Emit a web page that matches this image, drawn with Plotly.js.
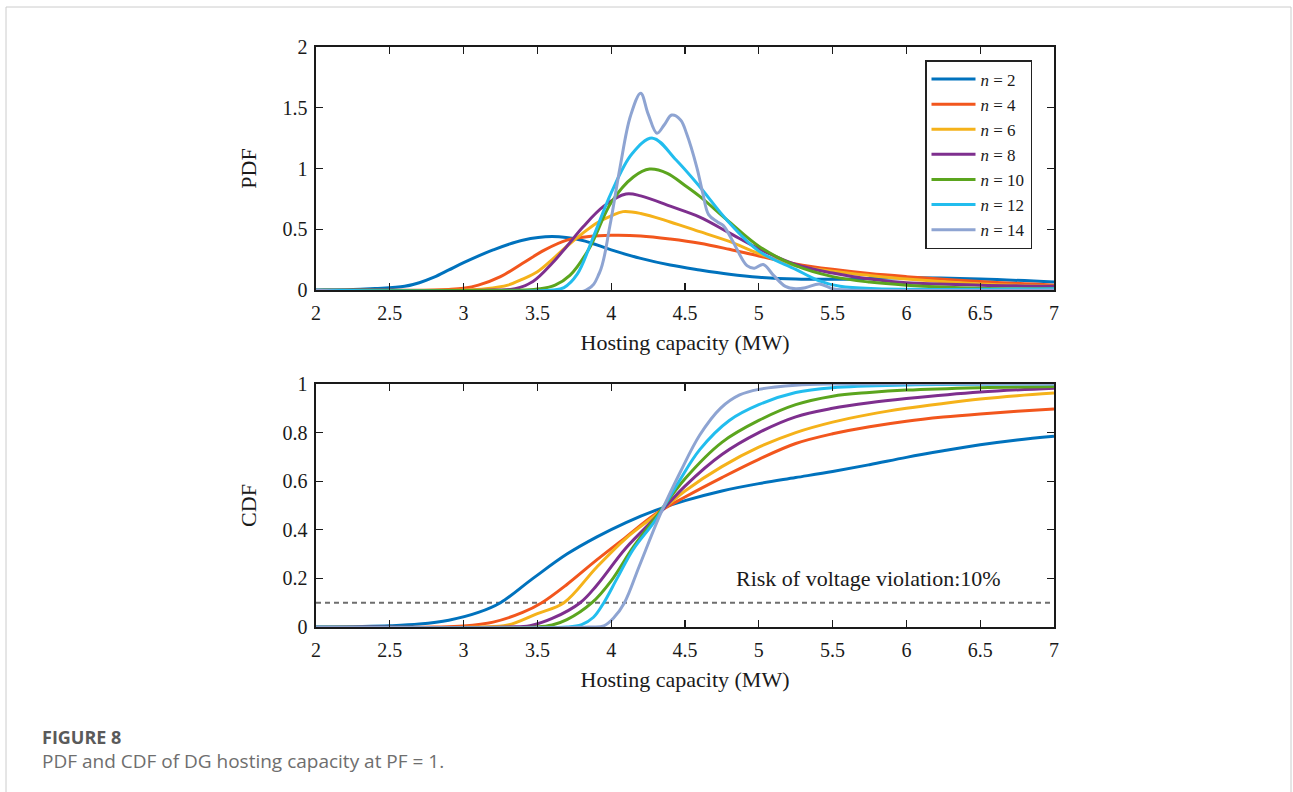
<!DOCTYPE html>
<html>
<head>
<meta charset="utf-8">
<script src="https://cdn.plot.ly/plotly-3.0.1.min.js"></script>
<style>
  html, body { margin: 0; padding: 0; background: #ffffff; }
  #chart { width: 1293px; height: 792px; }
</style>
</head>
<body>
<div id="chart"></div>
<script>
// ---------------- DATA ----------------
const nValues = [2, 4, 6, 8, 10, 12, 14];
const seriesColors = ['#0072BD', '#F2561D', '#F5B21A', '#7E2F8E', '#5BA51E', '#22BDEE', '#8EA4D2'];

const xTickValues = [2, 2.5, 3, 3.5, 4, 4.5, 5, 5.5, 6, 6.5, 7];
const pdfTickValues = [0, 0.5, 1, 1.5, 2];
const cdfTickValues = [0, 0.2, 0.4, 0.6, 0.8, 1];

// PDF curves (x in MW, y density)
const pdfX_n2  = [2, 2.2, 2.4, 2.6, 2.7, 2.8, 2.9, 3.0, 3.2, 3.4, 3.6, 3.8, 4.0, 4.2, 4.4, 4.6, 4.8, 5.0, 5.25, 5.5, 6.0, 6.5, 7.0];
const pdfY_n2  = [0, 0.002, 0.012, 0.03, 0.06, 0.105, 0.165, 0.225, 0.33, 0.41, 0.44, 0.41, 0.33, 0.26, 0.205, 0.165, 0.13, 0.105, 0.09, 0.088, 0.1, 0.09, 0.066];

const pdfX_n4  = [2, 2.8, 2.9, 3.0, 3.1, 3.25, 3.4, 3.55, 3.7, 3.85, 4.0, 4.2, 4.4, 4.6, 4.8, 5.0, 5.25, 5.5, 5.75, 6.0, 6.5, 7.0];
const pdfY_n4  = [0, 0, 0.005, 0.015, 0.04, 0.11, 0.22, 0.33, 0.41, 0.44, 0.45, 0.445, 0.42, 0.385, 0.335, 0.28, 0.215, 0.17, 0.135, 0.11, 0.07, 0.04];

const pdfX_n6  = [2, 3.0, 3.15, 3.3, 3.4, 3.5, 3.6, 3.7, 3.8, 3.9, 4.0, 4.08, 4.2, 4.4, 4.6, 4.8, 5.0, 5.25, 5.5, 5.75, 6.0, 6.5, 7.0];
const pdfY_n6  = [0, 0, 0.01, 0.04, 0.09, 0.15, 0.25, 0.36, 0.46, 0.55, 0.61, 0.645, 0.63, 0.56, 0.48, 0.4, 0.3, 0.2, 0.155, 0.12, 0.09, 0.05, 0.03];

const pdfX_n8  = [2, 3.2, 3.35, 3.47, 3.6, 3.7, 3.81, 3.95, 4.1, 4.2, 4.4, 4.6, 4.8, 5.0, 5.25, 5.5, 5.75, 6.0, 6.5, 7.0];
const pdfY_n8  = [0, 0, 0.01, 0.07, 0.22, 0.36, 0.52, 0.69, 0.79, 0.775, 0.69, 0.6, 0.47, 0.34, 0.21, 0.14, 0.09, 0.06, 0.04, 0.03];

const pdfX_n10 = [2, 3.4, 3.52, 3.62, 3.72, 3.85, 4.0, 4.15, 4.26, 4.38, 4.5, 4.6, 4.8, 5.0, 5.25, 5.5, 5.75, 6.0, 6.5, 7.0];
const pdfY_n10 = [0, 0, 0.01, 0.04, 0.12, 0.34, 0.72, 0.93, 0.995, 0.96, 0.86, 0.77, 0.56, 0.36, 0.2, 0.11, 0.065, 0.04, 0.015, 0.01];

const pdfX_n12 = [2, 3.6, 3.68, 3.77, 3.88, 4.0, 4.14, 4.28, 4.44, 4.6, 4.78, 5.0, 5.25, 5.4, 5.55, 5.8, 7.0];
const pdfY_n12 = [0, 0, 0.02, 0.13, 0.44, 0.8, 1.12, 1.25, 1.07, 0.85, 0.58, 0.32, 0.17, 0.08, 0.03, 0.01, 0.01];

const pdfX_n14 = [2, 3.83, 3.92, 3.99, 4.06, 4.13, 4.2, 4.25, 4.31, 4.36, 4.41, 4.47, 4.51, 4.58, 4.62, 4.66, 4.72, 4.76, 4.82, 4.92, 4.97, 5.03, 5.1, 5.18, 5.25, 5.32, 5.41, 5.5, 5.6, 7.0];
const pdfY_n14 = [0, 0, 0.14, 0.52, 1.01, 1.43, 1.62, 1.45, 1.29, 1.36, 1.44, 1.4, 1.29, 1.01, 0.8, 0.62, 0.56, 0.53, 0.41, 0.2, 0.18, 0.21, 0.12, 0.03, 0.01, 0.02, 0.05, 0.01, 0, 0];

// CDF curves
const cdfX_n2  = [2, 2.3, 2.5, 2.7, 2.9, 3.1, 3.25, 3.47, 3.7, 3.9, 4.1, 4.3, 4.5, 4.75, 5.0, 5.25, 5.5, 5.75, 6.0, 6.25, 6.5, 6.75, 7.0];
const cdfY_n2  = [0, 0.002, 0.005, 0.012, 0.028, 0.06, 0.1, 0.2, 0.3, 0.37, 0.43, 0.48, 0.52, 0.56, 0.59, 0.615, 0.64, 0.668, 0.698, 0.725, 0.75, 0.77, 0.785];

const cdfX_n4  = [2, 2.8, 3.0, 3.2, 3.4, 3.53, 3.7, 3.9, 4.1, 4.3, 4.5, 4.75, 5.0, 5.25, 5.5, 5.75, 6.0, 6.25, 6.5, 6.75, 7.0];
const cdfY_n4  = [0, 0, 0.004, 0.02, 0.06, 0.1, 0.175, 0.275, 0.37, 0.465, 0.535, 0.615, 0.69, 0.755, 0.795, 0.824, 0.847, 0.864, 0.877, 0.888, 0.897];

const cdfX_n6  = [2, 3.1, 3.3, 3.5, 3.68, 3.9, 4.1, 4.3, 4.5, 4.75, 5.0, 5.25, 5.5, 5.75, 6.0, 6.25, 6.5, 6.75, 7.0];
const cdfY_n6  = [0, 0, 0.008, 0.055, 0.1, 0.245, 0.365, 0.46, 0.56, 0.66, 0.74, 0.8, 0.843, 0.875, 0.9, 0.92, 0.938, 0.952, 0.963];

const cdfX_n8  = [2, 3.3, 3.45, 3.6, 3.79, 3.9, 4.1, 4.3, 4.5, 4.75, 5.0, 5.25, 5.5, 5.75, 6.0, 6.5, 7.0];
const cdfY_n8  = [0, 0, 0.005, 0.035, 0.1, 0.17, 0.325, 0.45, 0.58, 0.71, 0.8, 0.865, 0.9, 0.923, 0.94, 0.967, 0.983];

const cdfX_n10 = [2, 3.5, 3.6, 3.7, 3.87, 4.0, 4.15, 4.3, 4.5, 4.75, 5.0, 5.25, 5.5, 5.75, 6.0, 6.5, 7.0];
const cdfY_n10 = [0, 0, 0.008, 0.03, 0.1, 0.19, 0.33, 0.45, 0.61, 0.76, 0.85, 0.915, 0.95, 0.965, 0.975, 0.985, 0.99];

const cdfX_n12 = [2, 3.7, 3.8, 3.88, 3.95, 4.04, 4.15, 4.3, 4.45, 4.6, 4.8, 5.0, 5.25, 5.5, 6.0, 7.0];
const cdfY_n12 = [0, 0, 0.01, 0.04, 0.1, 0.2, 0.32, 0.44, 0.59, 0.73, 0.85, 0.915, 0.965, 0.985, 0.996, 1.0];

const cdfX_n14 = [2, 3.85, 3.95, 4.02, 4.09, 4.19, 4.33, 4.47, 4.6, 4.74, 4.87, 5.0, 5.25, 5.5, 7.0];
const cdfY_n14 = [0, 0, 0.005, 0.04, 0.1, 0.25, 0.46, 0.64, 0.79, 0.9, 0.955, 0.978, 0.995, 1.0, 1.0];

const riskLevel = 0.1;
const riskX = [2, 7];
const riskLabel = 'Risk of voltage violation:10%';
const riskLabelPos = [4.83, 0.2];

const xTitle = 'Hosting capacity (MW)';
const pdfTitle = 'PDF';
const cdfTitle = 'CDF';
const figLabel = 'FIGURE 8';
const figCaption = 'PDF and CDF of DG hosting capacity at PF = 1.';

// ---------------- BUILD ----------------
const pdfXs = [pdfX_n2, pdfX_n4, pdfX_n6, pdfX_n8, pdfX_n10, pdfX_n12, pdfX_n14];
const pdfYs = [pdfY_n2, pdfY_n4, pdfY_n6, pdfY_n8, pdfY_n10, pdfY_n12, pdfY_n14];
const cdfXs = [cdfX_n2, cdfX_n4, cdfX_n6, cdfX_n8, cdfX_n10, cdfX_n12, cdfX_n14];
const cdfYs = [cdfY_n2, cdfY_n4, cdfY_n6, cdfY_n8, cdfY_n10, cdfY_n12, cdfY_n14];

const serif = 'Liberation Serif, Times New Roman, serif';
const traces = [];

traces.push({
  x: riskX, y: [riskLevel, riskLevel], xaxis: 'x2', yaxis: 'y2',
  mode: 'lines', line: { color: '#6e6e6e', width: 2, dash: '5px,4px' },
  showlegend: false, hoverinfo: 'skip'
});

nValues.forEach((n, i) => {
  traces.push({
    x: pdfXs[i], y: pdfYs[i], xaxis: 'x', yaxis: 'y',
    mode: 'lines', name: '<i>n</i> = ' + n,
    line: { color: seriesColors[i], width: 3, shape: 'spline', smoothing: 1 },
    legendgroup: 'n' + n
  });
});
nValues.forEach((n, i) => {
  traces.push({
    x: cdfXs[i], y: cdfYs[i], xaxis: 'x2', yaxis: 'y2',
    mode: 'lines', name: '<i>n</i> = ' + n, showlegend: false,
    line: { color: seriesColors[i], width: 3, shape: 'spline', smoothing: 1 },
    legendgroup: 'n' + n
  });
});

const W = 1293, H = 792;
const xDom = [316 / W, 1054 / W];
const axisCommon = {
  showline: true, linecolor: '#1a1a1a', linewidth: 1.6, mirror: 'ticks',
  ticks: 'inside', ticklen: 7, tickwidth: 1.4, tickcolor: '#1a1a1a',
  showgrid: false, zeroline: false, automargin: false,
  tickfont: { family: serif, size: 20, color: '#1a1a1a' }
};

const layout = {
  width: W, height: H,
  margin: { l: 0, r: 0, t: 0, b: 0 },
  paper_bgcolor: '#ffffff', plot_bgcolor: '#ffffff',
  showlegend: true,
  xaxis: Object.assign({}, axisCommon, {
    domain: xDom, anchor: 'y', range: [2, 7], tickvals: xTickValues,
    ticklabelstandoff: 4,
    title: { text: xTitle, font: { family: serif, size: 22, color: '#1a1a1a' }, standoff: 12 }
  }),
  yaxis: Object.assign({}, axisCommon, {
    domain: [1 - 290 / H, 1 - 47 / H], anchor: 'x', range: [0, 2], tickvals: pdfTickValues,
    ticklabelstandoff: 3,
    title: { text: pdfTitle, font: { family: serif, size: 22, color: '#1a1a1a' }, standoff: 20 }
  }),
  xaxis2: Object.assign({}, axisCommon, {
    domain: xDom, anchor: 'y2', range: [2, 7], tickvals: xTickValues,
    ticklabelstandoff: 4,
    title: { text: xTitle, font: { family: serif, size: 22, color: '#1a1a1a' }, standoff: 12 }
  }),
  yaxis2: Object.assign({}, axisCommon, {
    domain: [1 - 627 / H, 1 - 384 / H], anchor: 'x2', range: [0, 1], tickvals: cdfTickValues,
    ticklabelstandoff: 3,
    title: { text: cdfTitle, font: { family: serif, size: 22, color: '#1a1a1a' }, standoff: 20 }
  }),
  legend: {
    x: 1032 / W, y: 1 - 60 / H, xanchor: 'right', yanchor: 'top',
    bgcolor: '#ffffff', bordercolor: '#222222', borderwidth: 1.5,
    font: { family: serif, size: 17, color: '#1a1a1a' },
    itemwidth: 44, tracegroupgap: 0
  },
  annotations: [
    { xref: 'x2', yref: 'y2', x: riskLabelPos[0], y: riskLabelPos[1], text: riskLabel,
      showarrow: false, xanchor: 'left', yanchor: 'middle',
      font: { family: serif, size: 22, color: '#1a1a1a' } },
    { xref: 'paper', yref: 'paper', x: 40 / W, y: 1 - 737 / H, text: '<b>' + figLabel + '</b>',
      showarrow: false, xanchor: 'left', yanchor: 'middle',
      font: { family: 'Open Sans, Noto Sans, sans-serif', size: 18, color: '#5a5a5a' } },
    { xref: 'paper', yref: 'paper', x: 40 / W, y: 1 - 761 / H, text: figCaption,
      showarrow: false, xanchor: 'left', yanchor: 'middle',
      font: { family: 'Open Sans, Noto Sans, sans-serif', size: 19, color: '#6e6e6e' } }
  ],
  shapes: [
    { type: 'rect', xref: 'paper', yref: 'paper', layer: 'below',
      x0: 6 / W, x1: 1291 / W, y0: -0.05, y1: 1 - 7 / H,
      line: { color: '#cccccc', width: 1 }, fillcolor: 'rgba(0,0,0,0)' }
  ]
};

Plotly.newPlot('chart', traces, layout, { displayModeBar: false, staticPlot: true });
</script>
</body>
</html>
